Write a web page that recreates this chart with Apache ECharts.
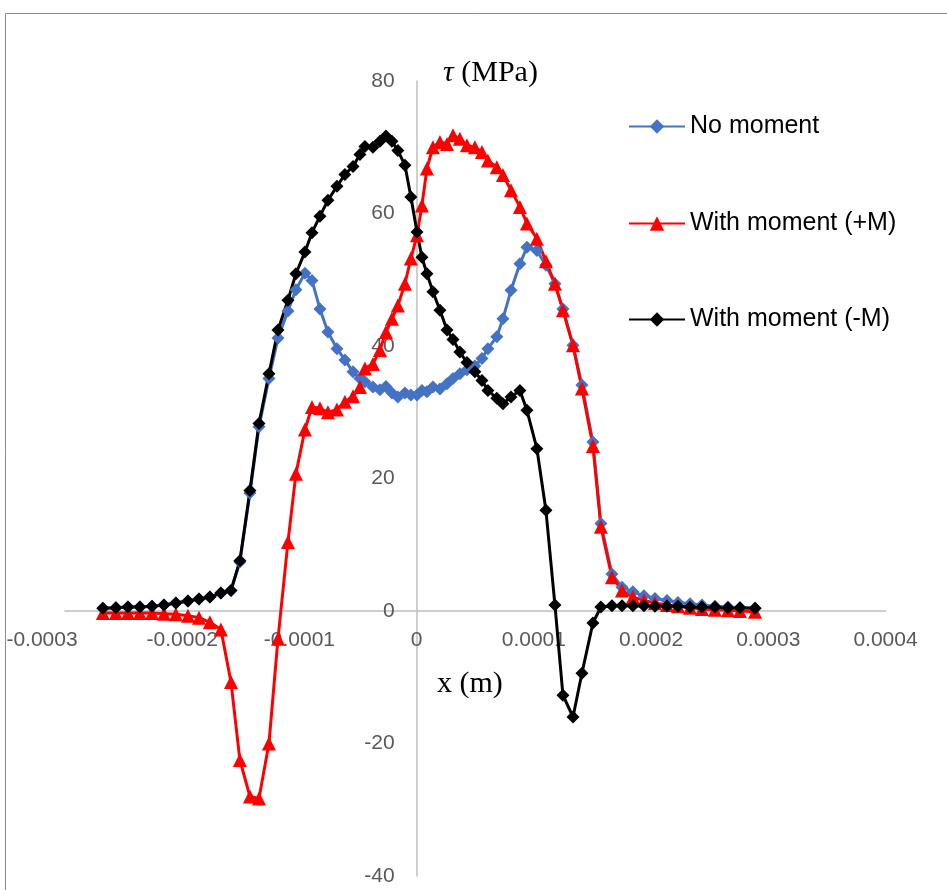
<!DOCTYPE html>
<html>
<head>
<meta charset="utf-8">
<script src="https://cdn.jsdelivr.net/npm/echarts@6/dist/echarts.min.js"></script>
<style>
  html, body { margin: 0; padding: 0; background: #fff; }
  #chart { width: 947px; height: 890px; }
</style>
</head>
<body>
<div id="chart"></div>
<script>
// x positions of the nodes (m), shared by all three curves
const xs = [
  -0.0002677, -0.0002566, -0.0002463, -0.0002361, -0.0002258, -0.0002156, -0.0002054, -0.0001951,
  -0.0001857, -0.0001764, -0.0001670, -0.0001584, -0.0001508, -0.0001422, -0.0001345, -0.0001260,
  -0.0001183, -0.0001098, -0.0001030, -0.0000953, -0.0000893, -0.0000825, -0.0000757, -0.0000680,
  -0.0000612, -0.0000543, -0.0000484, -0.0000441, -0.0000373, -0.0000313, -0.0000262, -0.0000211,
  -0.0000160, -0.0000100, -0.0000049, 0.0000003, 0.0000045, 0.0000088, 0.0000139, 0.0000199,
  0.0000259, 0.0000310, 0.0000369, 0.0000429, 0.0000497, 0.0000557, 0.0000608, 0.0000684,
  0.0000736, 0.0000805, 0.0000881, 0.0000941, 0.0001026, 0.0001103, 0.0001180, 0.0001248,
  0.0001334, 0.0001410, 0.0001504, 0.0001572, 0.0001666, 0.0001752, 0.0001845, 0.0001939,
  0.0002033, 0.0002136, 0.0002229, 0.0002332, 0.0002434, 0.0002545, 0.0002656, 0.0002758,
  0.0002887
]

// tau (MPa)
const noMoment = [
  0.4, 0.5, 0.6, 0.6, 0.7, 0.9, 1.2, 1.5, 1.8, 2.1, 2.7, 3.1,
  7.4, 17.8, 27.8, 35.1, 41.2, 45.3, 48.5, 51.0, 49.9, 45.6,
  42.1, 39.6, 37.9, 36.1, 35.1, 34.6, 33.8, 33.4, 33.9, 32.9,
  32.3, 32.9, 32.6, 32.6, 33.3, 33.1, 33.8, 33.5, 34.3, 35.1,
  35.8, 36.4, 37.0, 38.1, 39.6, 41.4, 44.1, 48.4, 52.4, 54.9,
  54.4, 52.2, 49.4, 45.6, 40.1, 34.1, 25.5, 13.2, 5.6, 3.6,
  2.9, 2.3, 1.9, 1.6, 1.3, 1.1, 0.9, 0.7, 0.6, 0.5, 0.4
]
const plusM = [
  -0.3, -0.3, -0.3, -0.3, -0.3, -0.4, -0.5, -0.7, -1.0, -1.7, -2.8,
  -10.7, -22.5, -28.0, -28.3, -20.0, -4.2, 10.4, 20.7, 27.4, 30.8,
  30.6, 30.0, 30.4, 31.6, 32.4, 33.8, 36.6, 37.3, 39.4, 42.1,
  44.1, 46.1, 49.4, 53.2, 56.7, 61.2, 66.8, 70.0, 70.8, 70.5,
  71.8, 71.3, 70.3, 70.0, 69.3, 68.0, 67.0, 65.8, 63.5, 61.0,
  58.5, 56.2, 52.8, 49.4, 45.4, 40.1, 33.6, 24.9, 12.7, 5.1,
  3.1, 2.1, 1.6, 1.2, 0.9, 0.7, 0.5, 0.3, 0.2, 0.1, 0.0, -0.1
]
const minusM = [
  0.4, 0.5, 0.6, 0.6, 0.7, 0.9, 1.2, 1.5, 1.8, 2.1, 2.7, 3.1,
  7.6, 18.2, 28.3, 35.8, 42.4, 46.9, 50.9, 54.2, 57.1, 59.6,
  62.0, 64.1, 65.9, 67.1, 68.9, 70.1, 70.0, 70.9, 71.7, 70.9,
  69.5, 67.3, 62.5, 57.2, 53.4, 50.9, 48.2, 45.4, 42.4, 41.0,
  39.1, 37.5, 36.1, 34.8, 33.3, 32.1, 31.3, 32.3, 33.3, 30.3,
  24.5, 15.2, 0.9, -12.7, -16.0, -9.4, -1.8, 0.6, 0.8, 0.8,
  0.8, 0.8, 0.7, 0.7, 0.7, 0.6, 0.6, 0.6, 0.5, 0.5, 0.4
]

const seriesNames = ['No moment', 'With moment (+M)', 'With moment (-M)']
const seriesColors = ['#4472c4', '#ff0000', '#000000']
const xMin = -0.0003

const pairs = (ys) => xs.map((x, i) => [x, ys[i]])

const chart = echarts.init(document.getElementById('chart'))

const axisText = { color: '#595959', fontSize: 21, fontFamily: 'Liberation Sans' }
const legendText = { color: '#000', fontSize: 25, fontFamily: 'Liberation Sans' }

// grid box: x -0.0003..0.0004 over 65..885.5 px, y 80..-40 over 81..876 px
const gridBox = { left: 65, right: 61.5, top: 81, bottom: 14 }
// axes cross at (0, 0): move them in from the grid edges
const xAxisOffset = -(876 - 611)
const yAxisOffset = -(416.7 - 65)

// one legend per entry so each row sits where the original has it
const legendTops = [114, 211, 307]
const legends = seriesNames.map((n, i) => ({
  data: [n],
  left: 628,
  top: legendTops[i],
  padding: 0,
  itemWidth: 56,
  itemHeight: 18,
  itemGap: 5,
  textStyle: legendText
}))

chart.setOption({
  animation: false,
  backgroundColor: '#fff',
  grid: { ...gridBox, outerBoundsMode: 'none', containLabel: false },
  legend: legends,
  xAxis: {
    type: 'value',
    min: xMin,
    max: 0.0004,
    interval: 0.0001,
    position: 'bottom',
    offset: xAxisOffset,
    axisLine: { onZero: false, lineStyle: { color: '#bfbfbf', width: 1.5 } },
    axisTick: { show: false },
    splitLine: { show: false },
    axisLabel: {
      ...axisText,
      margin: 19,
      formatter: (v) => {
        const s = String(+v.toFixed(4))
        // first label is pushed inside the chart box, as in the original
        return Math.abs(v - xMin) < 1e-9 ? '{first|' + s + '}' : s
      },
      rich: { first: { ...axisText, padding: [0, 46, 0, 0] } }
    }
  },
  yAxis: {
    type: 'value',
    min: -40,
    max: 80,
    interval: 20,
    position: 'left',
    offset: yAxisOffset,
    axisLine: { onZero: false, lineStyle: { color: '#bfbfbf', width: 1.5 } },
    axisTick: { show: false },
    splitLine: { show: false },
    axisLabel: { ...axisText, margin: 22 }
  },
  graphic: [
    {
      type: 'rect',
      shape: { x: 5.5, y: 13.5, width: 1200, height: 1200 },
      style: { fill: null, stroke: '#8c8c8c', lineWidth: 1 },
      silent: true
    },
    {
      type: 'text',
      left: 443,
      top: 58,
      style: {
        text: '{i|τ} (MPa)',
        font: '30px "Liberation Serif"',
        fill: '#000',
        rich: { i: { fontStyle: 'italic', fontSize: 30, fontFamily: 'Liberation Serif' } }
      }
    },
    {
      type: 'text',
      left: 437,
      top: 669,
      style: { text: 'x (m)', font: '30px "Liberation Serif"', fill: '#000' }
    }
  ],
  series: [
    {
      name: seriesNames[0],
      type: 'line',
      data: pairs(noMoment),
      symbol: 'diamond',
      symbolSize: 13,
      showSymbol: true,
      color: seriesColors[0],
      lineStyle: { width: 3, color: seriesColors[0] }
    },
    {
      name: seriesNames[1],
      type: 'line',
      data: pairs(plusM),
      symbol: 'triangle',
      symbolSize: 14,
      showSymbol: true,
      color: seriesColors[1],
      lineStyle: { width: 3, color: seriesColors[1] }
    },
    {
      name: seriesNames[2],
      type: 'line',
      data: pairs(minusM),
      symbol: 'diamond',
      symbolSize: 13,
      showSymbol: true,
      color: seriesColors[2],
      lineStyle: { width: 3, color: seriesColors[2] }
    }
  ]
})

window.addEventListener('resize', () => chart.resize())
</script>
</body>
</html>
